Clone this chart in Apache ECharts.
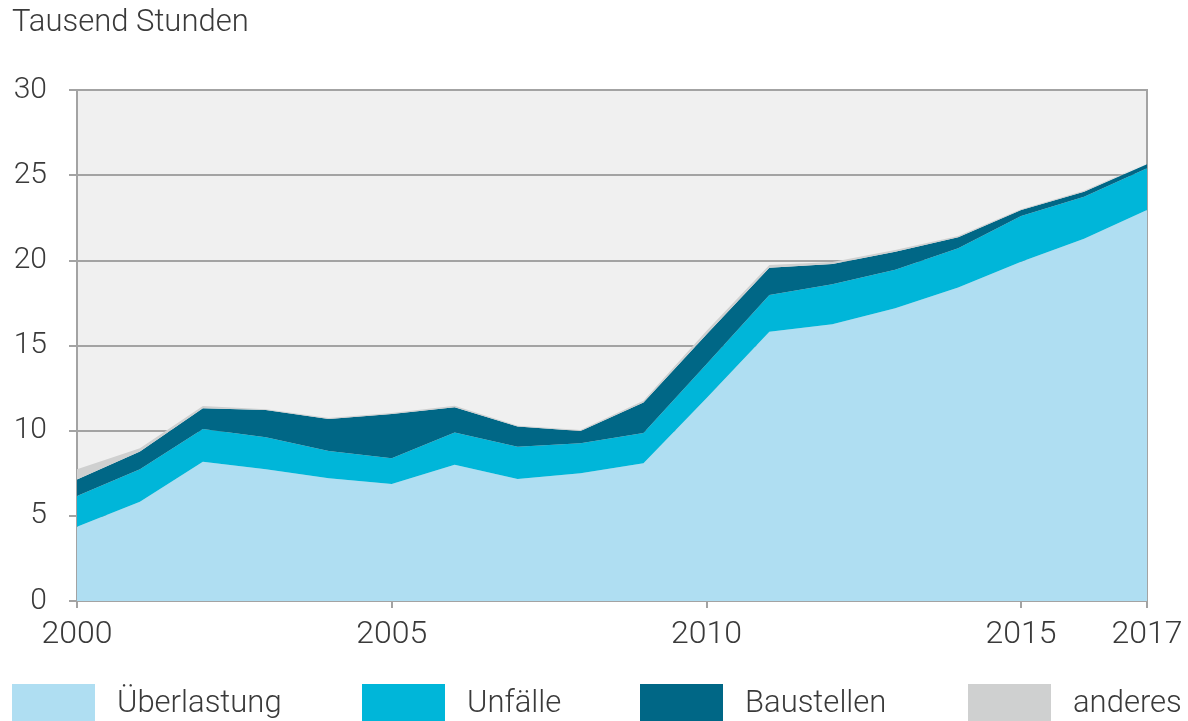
<!DOCTYPE html>
<html>
<head>
<meta charset="utf-8">
<script src="https://cdn.jsdelivr.net/npm/echarts@6/dist/echarts.min.js"></script>
<style>
  html, body { margin: 0; padding: 0; background: #ffffff; }
  #chart { width: 1188px; height: 721px; }
</style>
</head>
<body>
<div id="chart"></div>
<script>
// Stunden im Stau nach Ursache, in Tausend Stunden
const years = ['2000', '2001', '2002', '2003', '2004', '2005', '2006', '2007', '2008',
  '2009', '2010', '2011', '2012', '2013', '2014', '2015', '2016', '2017'];
const labeledYears = ['2000', '2005', '2010', '2015', '2017'];
const ueberlastung = [4.36, 5.83, 8.18, 7.73, 7.2, 6.87, 8.0, 7.16, 7.5, 8.08, 11.9, 15.81, 16.25, 17.19, 18.4, 19.92, 21.26, 22.96];
const unfaelle = [1.81, 1.9, 1.92, 1.88, 1.6, 1.51, 1.89, 1.9, 1.76, 1.79, 2.0, 2.16, 2.35, 2.25, 2.31, 2.68, 2.48, 2.45];
const baustellen = [0.97, 1.04, 1.21, 1.6, 1.89, 2.6, 1.48, 1.18, 0.72, 1.78, 1.75, 1.6, 1.19, 1.07, 0.64, 0.36, 0.29, 0.23];
const anderes = [0.6, 0.2, 0.14, 0.05, 0.05, 0.05, 0.1, 0.05, 0.06, 0.11, 0.2, 0.15, 0.11, 0.09, 0.08, 0.04, 0.05, 0.06];

const seriesNames = ['Überlastung', 'Unfälle', 'Baustellen', 'anderes'];
const seriesData = [ueberlastung, unfaelle, baustellen, anderes];
const colors = ['#afdef2', '#00b6d9', '#006786', '#cfd0d0'];

const FONT = 'Roboto';
const TEXT = '#3a3a3a';
const AXIS = '#a3a3a3';

const showYear = (i) => labeledYears.includes(years[i]);

// one legend per entry so each sits where the original puts it
const legendLeft = [12, 362, 640, 968];
const legends = seriesNames.map((name, i) => ({
  data: [name],
  left: legendLeft[i],
  top: 684,
  itemWidth: 83,
  itemHeight: 40,
  itemGap: 0,
  icon: 'rect',
  padding: 0,
  selectedMode: false,
  textStyle: { fontFamily: FONT, fontWeight: 300, fontSize: 31, color: TEXT, padding: [0, 0, 0, 17] },
}));

const chart = echarts.init(document.getElementById('chart'), null, { renderer: 'canvas' });
chart.setOption({
  animation: false,
  backgroundColor: '#ffffff',
  color: colors,
  title: {
    text: 'Tausend Stunden',
    left: 12,
    top: 8,
    padding: 0,
    textStyle: { fontFamily: FONT, fontWeight: 300, fontSize: 31, color: TEXT },
  },
  legend: legends,
  grid: {
    left: 77, right: 41, top: 90, bottom: 120,
    show: true, backgroundColor: '#f0f0f0', borderColor: AXIS, borderWidth: 2,
  },
  xAxis: {
    type: 'category',
    data: years,
    boundaryGap: false,
    axisLine: { lineStyle: { color: AXIS, width: 2 } },
    axisTick: { show: true, length: 7, interval: (i) => showYear(i), lineStyle: { color: AXIS, width: 2 } },
    axisLabel: {
      interval: (i) => showYear(i),
      margin: 18,
      fontFamily: FONT, fontWeight: 300, fontSize: 32, color: TEXT,
    },
    splitLine: { show: false },
  },
  yAxis: {
    type: 'value',
    min: 0, max: 30, interval: 5,
    axisLine: { show: true, lineStyle: { color: AXIS, width: 2 } },
    axisTick: { show: true, length: 8, lineStyle: { color: AXIS, width: 2 } },
    axisLabel: { margin: 30, fontFamily: FONT, fontWeight: 300, fontSize: 30, color: TEXT },
    splitLine: { show: true, lineStyle: { color: AXIS, width: 2 } },
  },
  series: seriesNames.map((name, i) => ({
    name,
    type: 'line',
    stack: 'total',
    data: seriesData[i],
    symbol: 'none',
    lineStyle: { width: 0 },
    areaStyle: { color: colors[i], opacity: 1 },
    itemStyle: { color: colors[i] },
    z: 2,
  })),
});
</script>
</body>
</html>
